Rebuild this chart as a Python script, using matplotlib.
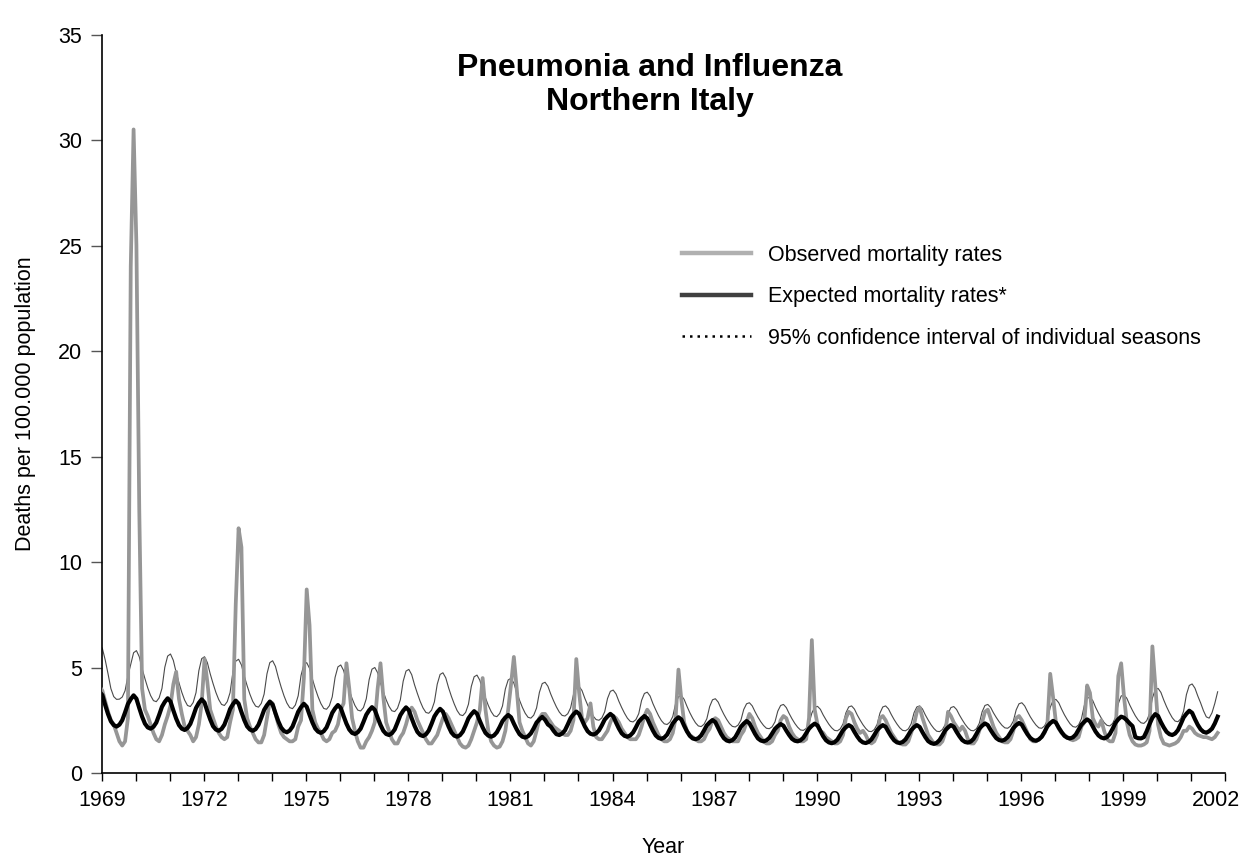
import numpy as np
import matplotlib
matplotlib.use("Agg")
import matplotlib.pyplot as plt
import matplotlib.transforms as mtransforms
from matplotlib.lines import Line2D

plt.rcParams['font.family'] = ['Liberation Sans', 'DejaVu Sans']

# ---------------- data (monthly, 33 seasons x 12 months) ----------------
start_year = 1968.853   # position of first monthly point on the year axis

observed = [
    4.0, 4.1, 3.9, 3.4, 2.9, 2.5, 2.3, 1.9, 1.5, 1.3, 1.5, 2.6,
    24.0, 30.5, 25.0, 12.5, 4.0, 3.0, 2.7, 2.3, 1.9, 1.6, 1.5, 1.8,
    2.3, 2.7, 3.2, 4.2, 4.8, 3.5, 2.8, 2.2, 2.0, 1.8, 1.5, 1.7,
    2.3, 3.3, 5.4, 4.3, 3.0, 2.6, 2.2, 1.9, 1.7, 1.6, 1.7, 2.4,
    3.0, 8.0, 11.6, 10.7, 3.5, 2.6, 2.2, 1.9, 1.6, 1.45, 1.45, 1.8,
    2.6, 3.4, 3.3, 2.8, 2.3, 1.9, 1.7, 1.6, 1.5, 1.5, 1.6, 2.2,
    2.5, 4.5, 8.7, 7.0, 3.0, 2.4, 2.1, 1.9, 1.6, 1.5, 1.6, 1.9,
    2.0, 2.3, 3.0, 3.3, 5.2, 4.0, 2.6, 2.0, 1.5, 1.2, 1.2, 1.5,
    1.7, 2.0, 2.4, 4.0, 5.2, 3.6, 2.4, 2.0, 1.6, 1.4, 1.4, 1.7,
    1.9, 2.3, 2.8, 3.1, 2.9, 2.5, 2.2, 1.9, 1.6, 1.4, 1.4, 1.6,
    1.8, 2.2, 2.6, 2.8, 2.6, 2.3, 2.0, 1.7, 1.4, 1.25, 1.2, 1.3,
    1.6, 2.0, 2.4, 3.0, 4.5, 3.0, 2.0, 1.5, 1.3, 1.2, 1.25, 1.5,
    2.0, 3.0, 4.2, 5.5, 4.0, 2.4, 2.0, 1.7, 1.4, 1.3, 1.5, 2.0,
    2.6, 2.8, 2.8, 2.6, 2.4, 2.2, 2.1, 2.0, 1.9, 1.8, 1.8, 2.0,
    2.5, 5.4, 3.8, 2.6, 2.4, 2.6, 3.3, 2.2, 1.7, 1.6, 1.6, 1.8,
    2.0, 2.4, 2.7, 2.6, 2.4, 2.1, 1.9, 1.7, 1.6, 1.6, 1.6, 1.8,
    2.2, 2.7, 3.0, 2.8, 2.4, 2.1, 1.8, 1.6, 1.5, 1.5, 1.6, 1.9,
    2.6, 4.9, 3.5, 2.4, 2.0, 1.8, 1.7, 1.6, 1.5, 1.5, 1.6, 1.9,
    2.1, 2.5, 2.6, 2.5, 2.2, 1.9, 1.7, 1.6, 1.5, 1.5, 1.5, 1.8,
    2.0, 2.4, 2.8, 2.6, 2.2, 1.9, 1.7, 1.5, 1.4, 1.4, 1.5, 1.8,
    2.0, 2.5, 2.7, 2.6, 2.2, 1.9, 1.7, 1.6, 1.5, 1.5, 1.6, 2.6,
    6.3, 3.0, 2.3, 2.0, 1.9, 1.7, 1.6, 1.5, 1.4, 1.4, 1.5, 1.8,
    2.6, 2.9, 2.8, 2.4, 2.1, 1.9, 2.0, 1.8, 1.5, 1.4, 1.5, 1.8,
    2.6, 2.7, 2.5, 2.2, 1.9, 1.7, 1.5, 1.4, 1.35, 1.35, 1.5, 1.9,
    2.3, 2.9, 3.1, 2.6, 2.2, 1.8, 1.6, 1.4, 1.35, 1.35, 1.5, 1.9,
    2.9, 2.7, 2.4, 2.2, 2.0, 2.2, 2.0, 1.6, 1.4, 1.4, 1.6, 2.0,
    2.4, 2.9, 3.0, 2.6, 2.2, 1.9, 1.7, 1.5, 1.45, 1.45, 1.6, 2.0,
    2.6, 2.7, 2.5, 2.2, 1.9, 1.6, 1.5, 1.5, 1.6, 1.7, 1.9, 2.3,
    4.7, 3.6, 2.4, 2.1, 1.9, 1.8, 1.7, 1.6, 1.55, 1.6, 1.7, 2.2,
    2.4, 4.15, 3.8, 2.6, 2.3, 2.2, 2.5, 2.0, 1.6, 1.5, 1.5, 1.9,
    4.6, 5.2, 3.6, 2.4, 1.8, 1.5, 1.35, 1.3, 1.3, 1.35, 1.45, 2.0,
    6.0, 4.2, 2.3, 1.7, 1.4, 1.35, 1.3, 1.35, 1.4, 1.5, 1.7, 2.0,
    2.0, 2.2, 2.1, 1.9, 1.8, 1.75, 1.7, 1.7, 1.65, 1.6, 1.7, 1.9,
]

expected = [
    3.85, 3.85, 3.69, 3.22, 2.79, 2.45, 2.27, 2.20, 2.29, 2.50, 2.87, 3.27,
    3.50, 3.68, 3.52, 3.08, 2.67, 2.34, 2.16, 2.10, 2.19, 2.39, 2.75, 3.14,
    3.37, 3.54, 3.39, 2.97, 2.58, 2.27, 2.10, 2.04, 2.13, 2.33, 2.69, 3.08,
    3.32, 3.49, 3.34, 2.92, 2.54, 2.22, 2.06, 2.00, 2.09, 2.29, 2.64, 3.03,
    3.26, 3.43, 3.29, 2.89, 2.51, 2.21, 2.06, 2.00, 2.08, 2.28, 2.62, 2.99,
    3.21, 3.38, 3.24, 2.83, 2.45, 2.15, 1.99, 1.93, 2.01, 2.20, 2.54, 2.90,
    3.12, 3.28, 3.14, 2.76, 2.40, 2.11, 1.96, 1.90, 1.98, 2.16, 2.49, 2.85,
    3.06, 3.22, 3.08, 2.70, 2.34, 2.06, 1.90, 1.85, 1.93, 2.10, 2.42, 2.76,
    2.97, 3.12, 2.99, 2.62, 2.28, 2.00, 1.85, 1.80, 1.88, 2.06, 2.39, 2.74,
    2.95, 3.11, 2.97, 2.59, 2.24, 1.95, 1.80, 1.75, 1.83, 2.01, 2.33, 2.68,
    2.89, 3.04, 2.91, 2.54, 2.20, 1.92, 1.77, 1.72, 1.79, 1.96, 2.26, 2.59,
    2.78, 2.93, 2.81, 2.47, 2.16, 1.90, 1.77, 1.72, 1.78, 1.93, 2.18, 2.46,
    2.63, 2.75, 2.64, 2.34, 2.07, 1.84, 1.72, 1.68, 1.74, 1.88, 2.12, 2.39,
    2.54, 2.66, 2.52, 2.30, 2.20, 2.00, 1.84, 1.80, 1.87, 2.02, 2.30, 2.60,
    2.78, 2.91, 2.80, 2.50, 2.21, 1.98, 1.86, 1.82, 1.88, 2.02, 2.26, 2.53,
    2.68, 2.80, 2.69, 2.39, 2.11, 1.88, 1.76, 1.72, 1.78, 1.92, 2.16, 2.43,
    2.58, 2.70, 2.59, 2.29, 2.01, 1.78, 1.66, 1.62, 1.68, 1.82, 2.08, 2.35,
    2.52, 2.64, 2.54, 2.24, 1.97, 1.76, 1.64, 1.60, 1.65, 1.78, 2.01, 2.26,
    2.40, 2.51, 2.41, 2.13, 1.86, 1.65, 1.54, 1.50, 1.56, 1.69, 1.93, 2.19,
    2.34, 2.46, 2.36, 2.10, 1.85, 1.64, 1.54, 1.50, 1.55, 1.66, 1.87, 2.09,
    2.22, 2.32, 2.24, 2.01, 1.80, 1.62, 1.53, 1.50, 1.55, 1.67, 1.88, 2.10,
    2.24, 2.34, 2.25, 1.99, 1.74, 1.55, 1.45, 1.41, 1.46, 1.58, 1.80, 2.03,
    2.17, 2.27, 2.19, 1.95, 1.73, 1.55, 1.45, 1.42, 1.47, 1.59, 1.80, 2.03,
    2.17, 2.27, 2.19, 1.95, 1.73, 1.55, 1.45, 1.42, 1.47, 1.59, 1.80, 2.03,
    2.17, 2.27, 2.18, 1.93, 1.70, 1.51, 1.42, 1.38, 1.43, 1.56, 1.78, 2.02,
    2.16, 2.27, 2.19, 1.95, 1.74, 1.56, 1.47, 1.44, 1.49, 1.62, 1.85, 2.10,
    2.24, 2.35, 2.27, 2.04, 1.83, 1.65, 1.56, 1.53, 1.58, 1.70, 1.91, 2.13,
    2.27, 2.37, 2.29, 2.05, 1.83, 1.66, 1.56, 1.53, 1.59, 1.72, 1.95, 2.21,
    2.36, 2.47, 2.39, 2.15, 1.94, 1.76, 1.67, 1.64, 1.69, 1.82, 2.05, 2.29,
    2.43, 2.54, 2.45, 2.20, 1.96, 1.78, 1.68, 1.64, 1.70, 1.85, 2.10, 2.38,
    2.55, 2.67, 2.62, 2.50, 2.35, 2.22, 1.70, 1.65, 1.64, 1.70, 1.98, 2.32,
    2.62, 2.79, 2.70, 2.41, 2.16, 1.95, 1.84, 1.80, 1.87, 2.03, 2.32, 2.63,
    2.81, 2.95, 2.85, 2.55, 2.28, 2.07, 1.95, 1.91, 1.98, 2.10, 2.35, 2.67,
]

ci_upper = [
    6.00, 6.15, 5.90, 5.36, 4.70, 4.00, 3.62, 3.49, 3.50, 3.60, 3.90, 4.60,
    5.15, 5.70, 5.80, 5.51, 4.95, 4.47, 4.03, 3.67, 3.43, 3.38, 3.56, 4.01,
    5.01, 5.54, 5.64, 5.34, 4.77, 4.27, 3.82, 3.45, 3.20, 3.15, 3.34, 3.81,
    4.85, 5.42, 5.51, 5.23, 4.70, 4.24, 3.82, 3.48, 3.25, 3.20, 3.38, 3.81,
    4.78, 5.30, 5.39, 5.12, 4.60, 4.14, 3.73, 3.39, 3.17, 3.12, 3.30, 3.74,
    4.70, 5.23, 5.32, 5.05, 4.53, 4.07, 3.66, 3.32, 3.10, 3.05, 3.22, 3.66,
    4.62, 5.14, 5.23, 4.96, 4.46, 4.01, 3.62, 3.29, 3.06, 3.02, 3.19, 3.61,
    4.53, 5.03, 5.12, 4.86, 4.36, 3.92, 3.53, 3.20, 2.98, 2.94, 3.10, 3.52,
    4.42, 4.92, 5.00, 4.75, 4.27, 3.85, 3.47, 3.16, 2.95, 2.91, 3.07, 3.47,
    4.35, 4.83, 4.91, 4.66, 4.18, 3.77, 3.39, 3.08, 2.87, 2.83, 2.98, 3.37,
    4.21, 4.67, 4.75, 4.51, 4.04, 3.63, 3.27, 2.96, 2.76, 2.72, 2.87, 3.26,
    4.10, 4.56, 4.64, 4.40, 3.95, 3.56, 3.20, 2.91, 2.71, 2.67, 2.82, 3.18,
    3.98, 4.41, 4.49, 4.26, 3.83, 3.45, 3.11, 2.83, 2.64, 2.60, 2.74, 3.08,
    3.82, 4.24, 4.30, 4.11, 3.74, 3.42, 3.13, 2.89, 2.73, 2.70, 2.81, 3.09,
    3.71, 4.04, 4.10, 3.91, 3.54, 3.22, 2.93, 2.69, 2.53, 2.50, 2.61, 2.90,
    3.53, 3.87, 3.93, 3.75, 3.40, 3.10, 2.83, 2.60, 2.45, 2.42, 2.53, 2.81,
    3.44, 3.77, 3.83, 3.65, 3.29, 2.99, 2.71, 2.48, 2.33, 2.30, 2.41, 2.68,
    3.29, 3.61, 3.67, 3.49, 3.16, 2.86, 2.60, 2.38, 2.23, 2.20, 2.31, 2.57,
    3.15, 3.47, 3.52, 3.36, 3.05, 2.78, 2.54, 2.34, 2.21, 2.18, 2.27, 2.50,
    3.01, 3.28, 3.33, 3.18, 2.90, 2.65, 2.43, 2.25, 2.12, 2.10, 2.19, 2.42,
    2.93, 3.20, 3.25, 3.10, 2.82, 2.57, 2.35, 2.17, 2.04, 2.02, 2.11, 2.34,
    2.84, 3.11, 3.16, 3.02, 2.75, 2.52, 2.31, 2.14, 2.02, 2.00, 2.09, 2.33,
    2.85, 3.13, 3.18, 3.03, 2.75, 2.51, 2.29, 2.11, 1.98, 1.96, 2.06, 2.30,
    2.84, 3.13, 3.18, 3.04, 2.77, 2.53, 2.32, 2.14, 2.02, 2.00, 2.09, 2.33,
    2.85, 3.13, 3.18, 3.03, 2.75, 2.51, 2.29, 2.11, 1.98, 1.96, 2.06, 2.29,
    2.82, 3.10, 3.15, 3.01, 2.75, 2.52, 2.31, 2.14, 2.02, 2.00, 2.10, 2.35,
    2.90, 3.20, 3.25, 3.11, 2.85, 2.63, 2.43, 2.26, 2.14, 2.12, 2.22, 2.46,
    2.99, 3.28, 3.33, 3.18, 2.91, 2.66, 2.45, 2.27, 2.14, 2.12, 2.23, 2.50,
    3.11, 3.44, 3.49, 3.33, 3.03, 2.76, 2.53, 2.33, 2.20, 2.17, 2.28, 2.57,
    3.19, 3.54, 3.59, 3.43, 3.11, 2.84, 2.60, 2.39, 2.26, 2.23, 2.35, 2.64,
    3.29, 3.65, 3.70, 3.54, 3.23, 2.96, 2.71, 2.51, 2.38, 2.35, 2.48, 2.81,
    3.55, 3.95, 4.01, 3.82, 3.46, 3.14, 2.86, 2.62, 2.46, 2.43, 2.57, 2.93,
    3.72, 4.15, 4.22, 4.02, 3.65, 3.32, 2.95, 2.66, 2.60, 2.85, 3.30, 3.85,
]

year_ticks = list(range(1969, 2003, 3))
y_ticks = [0, 5, 10, 15, 20, 25, 30, 35]

title = "Pneumonia and Influenza\nNorthern Italy"
legend_labels = ["Observed mortality rates",
                 "Expected mortality rates*",
                 "95% confidence interval of individual seasons"]

# ---------------- figure ----------------
W, H = 1247, 868
fig = plt.figure(figsize=(W / 100, H / 100), dpi=100)
ax = fig.add_axes([101.7 / W, 95 / H, (1225.5 - 101.7) / W, (773 - 34.5) / H])

t = start_year + np.arange(len(observed)) / 12.0

ax.plot(t, ci_upper, color='#4a4a4a', lw=0.8, zorder=2)
ax.plot(t, observed, color='#969696', lw=2.7, zorder=3, solid_joinstyle='round')
ax.plot(t, expected, color='#000000', lw=3.0, zorder=4)

ax.set_xlim(1969, 2002)
ax.set_ylim(0, 35)
ax.set_xticks(year_ticks)
ax.set_xticklabels([str(y) for y in year_ticks])
ax.set_xticks(range(1969, 2003), minor=True)
ax.set_yticks(y_ticks)

for s in ['top', 'right']:
    ax.spines[s].set_visible(False)
for s in ['left', 'bottom']:
    ax.spines[s].set_linewidth(1.2)
    ax.spines[s].set_color('black')

ax.tick_params(axis='x', which='both', direction='out', length=6, width=1, pad=6,
               labelsize=15.5, color='black')
ax.tick_params(axis='y', which='major', direction='out', length=8, width=1, pad=6,
               labelsize=15.5, color='#555555')

# keep the last year label inside the picture, as in the reference
last = ax.get_xticklabels()[-1]
last.set_transform(last.get_transform() +
                   mtransforms.ScaledTranslation(-9 / 100, 0, fig.dpi_scale_trans))

ax.set_xlabel("Year", fontsize=15.5, labelpad=19)
ax.set_ylabel("Deaths per 100.000 population", fontsize=15.5, labelpad=16)

fig.text(650 / W, 1 - 85 / H, title, ha='center', va='center', fontsize=23,
         fontweight='bold', linespacing=1.2)

handles = [Line2D([], [], color='#b0b0b0', lw=3.2),
           Line2D([], [], color='#404040', lw=3.2),
           Line2D([], [], color='black', lw=1.8, linestyle=(0, (1, 2)))]
leg = ax.legend(handles, legend_labels, loc='upper left',
                bbox_to_anchor=(682 / W, 1 - 245 / H), bbox_transform=fig.transFigure,
                frameon=False, fontsize=15.5, handlelength=3.2, handletextpad=0.8,
                labelspacing=0.95, borderpad=0, borderaxespad=0)

fig.savefig("out.png", dpi=100)
